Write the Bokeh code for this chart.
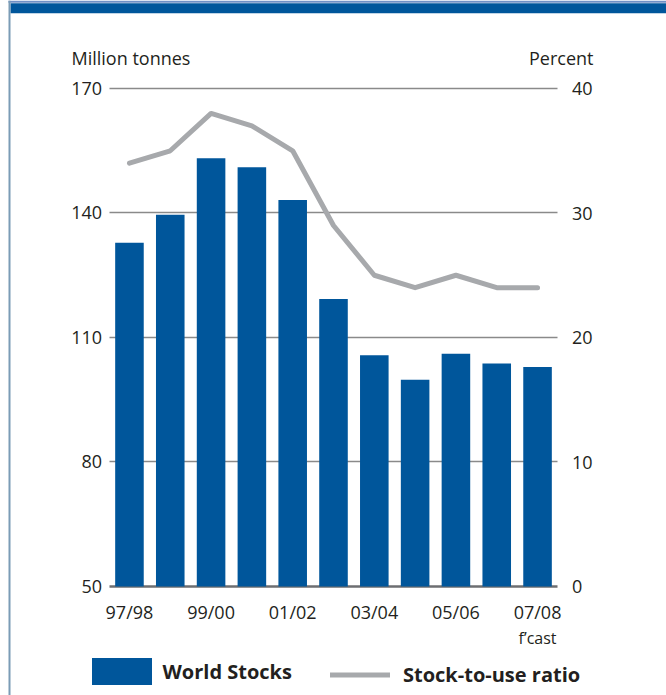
from bokeh.plotting import figure
from bokeh.models import (Range1d, LinearAxis, FixedTicker, Label, Legend, LegendItem,
                          BoxAnnotation, ColumnDataSource, Grid)
from bokeh.embed import file_html
from bokeh.resources import INLINE

# ---- data ----
seasons = ["97/98", "98/99", "99/00", "00/01", "01/02", "02/03",
           "03/04", "04/05", "05/06", "06/07", "07/08"]
world_stocks = [132.8, 139.6, 153.2, 151.0, 143.1, 119.3, 105.7, 99.8, 106.1, 103.7, 102.9]
stock_to_use = [34, 35, 38, 37, 35, 29, 25, 24, 25, 24, 24]
left_ticks = [50, 80, 110, 140, 170]
right_ticks = [0, 10, 20, 30, 40]
labelled_seasons = ["97/98", "99/00", "01/02", "03/04", "05/06", "07/08"]
forecast_season = "07/08"

FONT = "Open Sans"
TXT = "#231f20"
BLUE = "#00569b"
GREY = "#a7a9ac"

xpos = list(range(len(seasons)))
src = ColumnDataSource(dict(x=xpos, season=seasons, stocks=world_stocks, ratio=stock_to_use))

# frame covers the whole canvas; ranges are widened so the plot area sits at 109..558 x 88..586
p = figure(width=666, height=695,
           x_range=Range1d(-3.16, 13.16), y_range=Range1d(23.73, 191.2),
           x_axis_location=None, y_axis_location=None,
           output_backend="svg", toolbar_location=None,
           min_border=0, min_border_left=0, min_border_right=0,
           min_border_top=0, min_border_bottom=0)
p.outline_line_color = None
p.xgrid.visible = False
p.ygrid.visible = False
p.extra_y_ranges = {"pct": Range1d(-8.755, 47.07)}

x_lo, x_hi = -0.5, len(seasons) - 0.5


def hgrid(ticks, color, width):
    g = Grid(dimension=1, ticker=FixedTicker(ticks=ticks),
             grid_line_color=color, grid_line_width=width)
    if "cross_bounds" in Grid.properties():
        g.cross_bounds = (x_lo, x_hi)
        p.add_layout(g)
    else:
        p.segment(x0=[x_lo] * len(ticks), x1=[x_hi] * len(ticks), y0=ticks, y1=ticks,
                  line_color=color, line_width=width, level="underlay")


hgrid(left_ticks[1:], "#8a8a8a", 1.5)

bars = p.vbar(x="x", top="stocks", bottom=left_ticks[0], width=0.7, source=src,
              fill_color=BLUE, line_color=None)
hgrid(left_ticks[:1], "#6d6e71", 2.5)
line = p.line(x="x", y="ratio", source=src, y_range_name="pct",
              line_color=GREY, line_width=5, line_join="round", line_cap="round")

# axes (pinned inside the canvas with fixed_location)
yl = LinearAxis(ticker=FixedTicker(ticks=left_ticks), fixed_location=x_lo)
yr = LinearAxis(y_range_name="pct", ticker=FixedTicker(ticks=right_ticks), fixed_location=x_hi)
xa = LinearAxis(ticker=FixedTicker(ticks=[seasons.index(s) for s in labelled_seasons]),
                fixed_location=left_ticks[0],
                major_label_overrides={seasons.index(s): s for s in labelled_seasons})
for ax, standoff in ((yl, 7), (yr, 14), (xa, 14)):
    ax.axis_line_color = None
    ax.major_tick_line_color = None
    ax.minor_tick_line_color = None
    ax.major_tick_out = 0
    ax.major_tick_in = 0
    ax.minor_tick_out = 0
    ax.minor_tick_in = 0
    ax.major_label_standoff = standoff
    ax.major_label_text_font = FONT
    ax.major_label_text_font_size = "18px"
    ax.major_label_text_color = TXT
p.add_layout(yl, "left")
p.add_layout(yr, "right")
p.add_layout(xa, "below")

# axis titles and forecast note
p.add_layout(Label(x=71, y=638, x_units="screen", y_units="screen", text="Million tonnes",
                   text_font=FONT, text_font_size="18px", text_color=TXT,
                   text_baseline="alphabetic"))
p.add_layout(Label(x=593, y=638, x_units="screen", y_units="screen", text="Percent",
                   text_font=FONT, text_font_size="18px", text_color=TXT,
                   text_align="right", text_baseline="alphabetic"))
p.add_layout(Label(x=seasons.index(forecast_season), y=58, y_units="screen", text="f\u2019cast",
                   text_font=FONT, text_font_size="16px", text_color=TXT,
                   text_align="center", text_baseline="alphabetic"))

# decorative frame
def box(l, r, b, t, color):
    p.add_layout(BoxAnnotation(left=l, right=r, bottom=b, top=t,
                               left_units="screen", right_units="screen",
                               bottom_units="screen", top_units="screen",
                               fill_color=color, fill_alpha=1, line_color=None, level="overlay"))


box(10, 666, 682.3, 692.3, BLUE)
box(8, 666, 692.7, 695, "#6f8fc5")
box(8, 10, 0, 695, "#7b9cb6")

legend_style = dict(orientation="horizontal", padding=0, margin=0,
                    label_text_font=FONT, label_text_font_size="20px",
                    label_text_font_style="bold", label_text_color=TXT,
                    border_line_color=None, background_fill_alpha=0)
legend_bars = Legend(items=[LegendItem(label="World Stocks", renderers=[bars])],
                     location=(83.5, 6.6), glyph_width=75, glyph_height=34, label_height=34,
                     label_standoff=4, **legend_style)
legend_line = Legend(items=[LegendItem(label="Stock-to-use ratio", renderers=[line])],
                     location=(330, 7.5), glyph_width=60, glyph_height=27, label_height=27,
                     label_standoff=13, **legend_style)
p.add_layout(legend_bars, "center")
p.add_layout(legend_line, "center")

open("out.html", "w").write(file_html(p, INLINE))
